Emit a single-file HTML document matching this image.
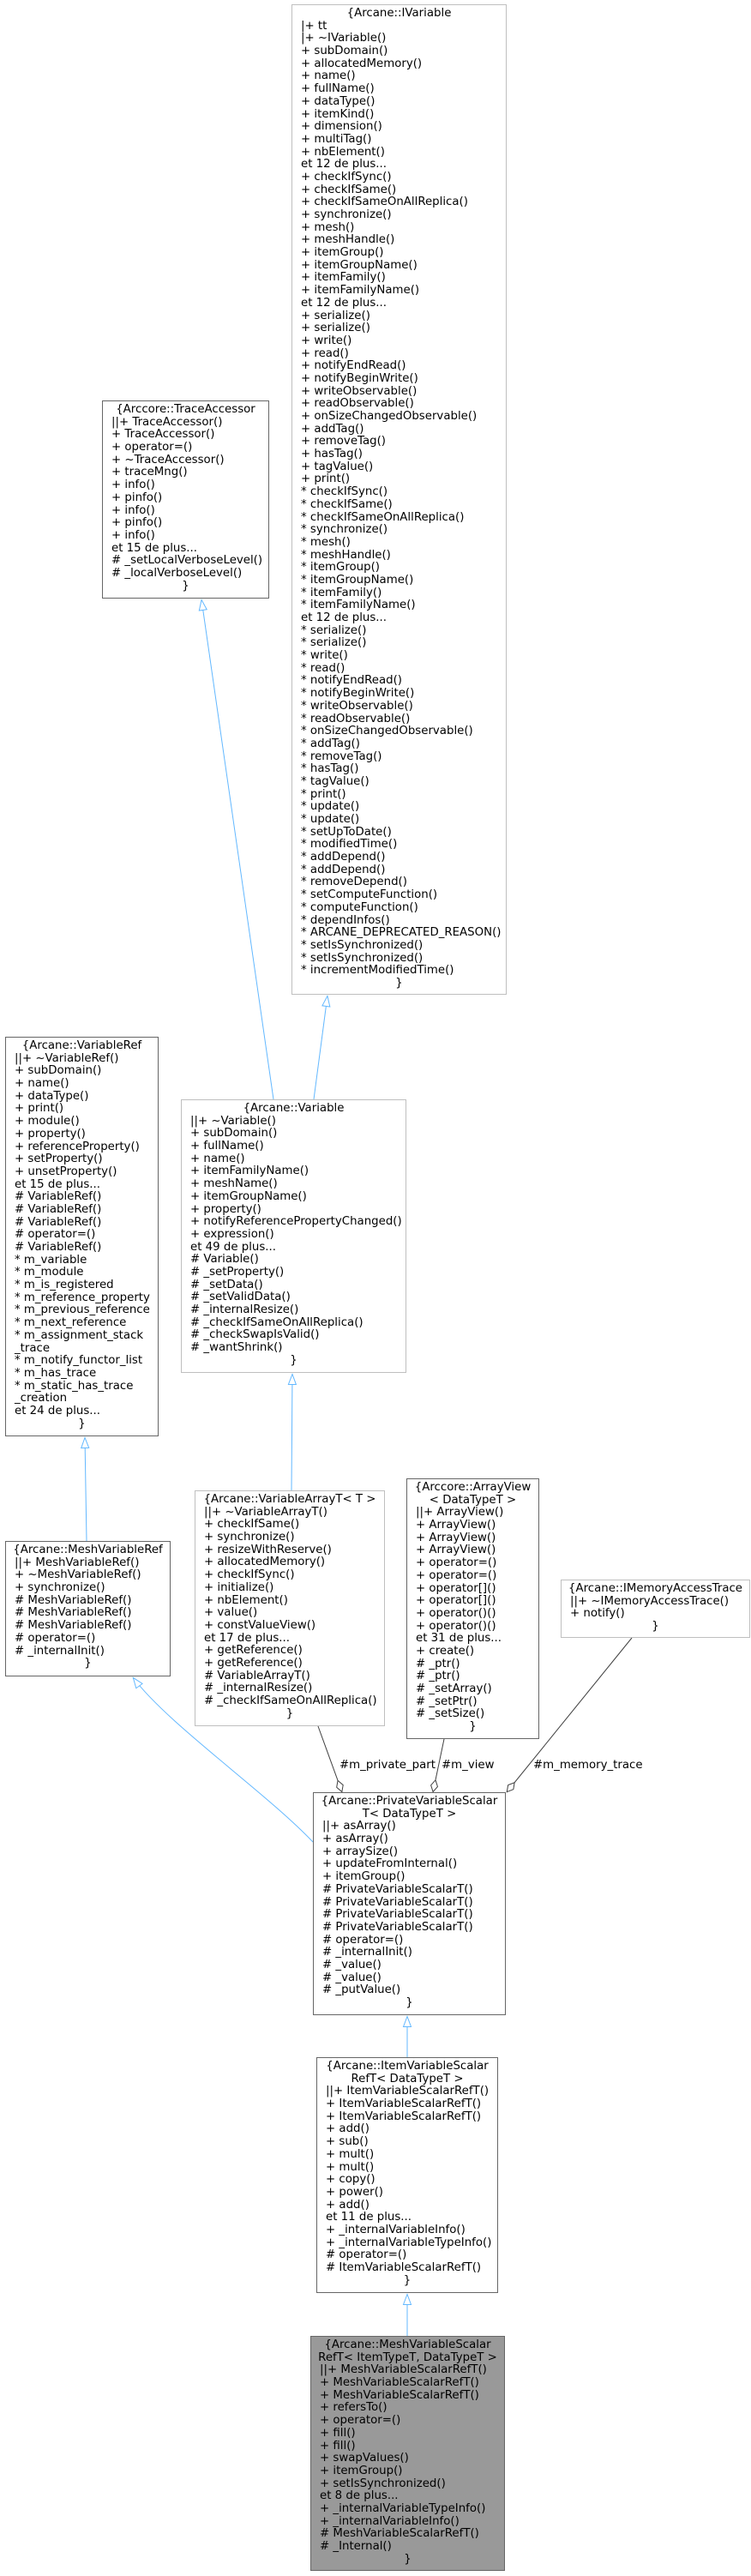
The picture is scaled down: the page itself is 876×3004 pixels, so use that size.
<!DOCTYPE html>
<html><head><meta charset="utf-8">
<style>
html,body{margin:0;padding:0;background:#fff;}
body{width:876px;height:3004px;position:relative;overflow:hidden;}
.b{position:absolute;box-sizing:border-box;border:1px solid #666;background:#fff;
 font-family:"DejaVu Sans","Liberation Sans",sans-serif;font-size:13.33px;line-height:14.7px;
 padding:3px 0 0 10px;color:#000;overflow:visible;}
.l{border-color:#bfbfbf;}
.g{background:#999;}
.b div{height:14.7px;white-space:pre;}
.c{text-align:center;margin-left:-10px;}
svg{position:absolute;left:0;top:0;}
.lab{position:absolute;font-family:"DejaVu Sans","Liberation Sans",sans-serif;font-size:13.33px;line-height:15px;white-space:pre;}
</style></head><body>
<svg width="876" height="3004">
<defs>
<marker id="tri" markerUnits="userSpaceOnUse" markerWidth="14" markerHeight="12" refX="12.5" refY="5" orient="auto" viewBox="-1 -1 14 12">
<path d="M0,0.5 L12,5 L0,9.5 z" fill="#fff" stroke="#63b8ff" stroke-width="1"/></marker>
<marker id="dia" markerUnits="userSpaceOnUse" markerWidth="16" markerHeight="10" refX="14.5" refY="4.5" orient="auto" viewBox="-1 -1 16 10">
<path d="M0,4.5 L7,0.5 L14,4.5 L7,8.5 z" fill="#fff" stroke="#404040" stroke-width="1"/></marker>
</defs>
<g fill="none" stroke="#63b8ff" stroke-width="1">
<path d="M319,1282 L235,699" marker-end="url(#tri)"/>
<path d="M366,1282 L382,1161" marker-end="url(#tri)"/>
<path d="M340,1738 L341,1602" marker-end="url(#tri)"/>
<path d="M101,1797 L99,1676" marker-end="url(#tri)"/>
<path d="M365,2148 C310,2090 195,2010 155,1956" marker-end="url(#tri)"/>
<path d="M475,2399 L475,2351" marker-end="url(#tri)"/>
<path d="M475,2724 L475,2675" marker-end="url(#tri)"/>
</g>
<g fill="none" stroke="#404040" stroke-width="1">
<path d="M371,2013 L399,2090" marker-end="url(#dia)"/>
<path d="M518,2028 L505,2090" marker-end="url(#dia)"/>
<path d="M737,1910 L591,2090" marker-end="url(#dia)"/>
</g>
</svg>

<div class="lab" style="left:396px;top:2051px">#m_private_part</div>
<div class="lab" style="left:515px;top:2051px">#m_view</div>
<div class="lab" style="left:622px;top:2051px">#m_memory_trace</div>

<div class="b l" style="left:340px;top:5px;width:251px;height:1155px"><div class="c">{Arcane::IVariable</div><div>|+ tt</div><div>|+ ~IVariable()</div><div>+ subDomain()</div><div>+ allocatedMemory()</div><div>+ name()</div><div>+ fullName()</div><div>+ dataType()</div><div>+ itemKind()</div><div>+ dimension()</div><div>+ multiTag()</div><div>+ nbElement()</div><div>et 12 de plus...</div><div>+ checkIfSync()</div><div>+ checkIfSame()</div><div>+ checkIfSameOnAllReplica()</div><div>+ synchronize()</div><div>+ mesh()</div><div>+ meshHandle()</div><div>+ itemGroup()</div><div>+ itemGroupName()</div><div>+ itemFamily()</div><div>+ itemFamilyName()</div><div>et 12 de plus...</div><div>+ serialize()</div><div>+ serialize()</div><div>+ write()</div><div>+ read()</div><div>+ notifyEndRead()</div><div>+ notifyBeginWrite()</div><div>+ writeObservable()</div><div>+ readObservable()</div><div>+ onSizeChangedObservable()</div><div>+ addTag()</div><div>+ removeTag()</div><div>+ hasTag()</div><div>+ tagValue()</div><div>+ print()</div><div>* checkIfSync()</div><div>* checkIfSame()</div><div>* checkIfSameOnAllReplica()</div><div>* synchronize()</div><div>* mesh()</div><div>* meshHandle()</div><div>* itemGroup()</div><div>* itemGroupName()</div><div>* itemFamily()</div><div>* itemFamilyName()</div><div>et 12 de plus...</div><div>* serialize()</div><div>* serialize()</div><div>* write()</div><div>* read()</div><div>* notifyEndRead()</div><div>* notifyBeginWrite()</div><div>* writeObservable()</div><div>* readObservable()</div><div>* onSizeChangedObservable()</div><div>* addTag()</div><div>* removeTag()</div><div>* hasTag()</div><div>* tagValue()</div><div>* print()</div><div>* update()</div><div>* update()</div><div>* setUpToDate()</div><div>* modifiedTime()</div><div>* addDepend()</div><div>* addDepend()</div><div>* removeDepend()</div><div>* setComputeFunction()</div><div>* computeFunction()</div><div>* dependInfos()</div><div>* ARCANE_DEPRECATED_REASON()</div><div>* setIsSynchronized()</div><div>* setIsSynchronized()</div><div>* incrementModifiedTime()</div><div class="c">}</div></div>

<div class="b" style="left:119px;top:467px;width:195px;height:231px"><div class="c">{Arccore::TraceAccessor</div><div>||+ TraceAccessor()</div><div>+ TraceAccessor()</div><div>+ operator=()</div><div>+ ~TraceAccessor()</div><div>+ traceMng()</div><div>+ info()</div><div>+ pinfo()</div><div>+ info()</div><div>+ pinfo()</div><div>+ info()</div><div>et 15 de plus...</div><div># _setLocalVerboseLevel()</div><div># _localVerboseLevel()</div><div class="c">}</div></div>

<div class="b" style="left:6px;top:1209px;width:179px;height:466px"><div class="c">{Arcane::VariableRef</div><div>||+ ~VariableRef()</div><div>+ subDomain()</div><div>+ name()</div><div>+ dataType()</div><div>+ print()</div><div>+ module()</div><div>+ property()</div><div>+ referenceProperty()</div><div>+ setProperty()</div><div>+ unsetProperty()</div><div>et 15 de plus...</div><div># VariableRef()</div><div># VariableRef()</div><div># VariableRef()</div><div># operator=()</div><div># VariableRef()</div><div>* m_variable</div><div>* m_module</div><div>* m_is_registered</div><div>* m_reference_property</div><div>* m_previous_reference</div><div>* m_next_reference</div><div>* m_assignment_stack</div><div>_trace</div><div>* m_notify_functor_list</div><div>* m_has_trace</div><div>* m_static_has_trace</div><div>_creation</div><div>et 24 de plus...</div><div class="c">}</div></div>

<div class="b l" style="left:211px;top:1282px;width:263px;height:319px"><div class="c">{Arcane::Variable</div><div>||+ ~Variable()</div><div>+ subDomain()</div><div>+ fullName()</div><div>+ name()</div><div>+ itemFamilyName()</div><div>+ meshName()</div><div>+ itemGroupName()</div><div>+ property()</div><div>+ notifyReferencePropertyChanged()</div><div>+ expression()</div><div>et 49 de plus...</div><div># Variable()</div><div># _setProperty()</div><div># _setData()</div><div># _setValidData()</div><div># _internalResize()</div><div># _checkIfSameOnAllReplica()</div><div># _checkSwapIsValid()</div><div># _wantShrink()</div><div class="c">}</div></div>

<div class="b" style="left:6px;top:1797px;width:193px;height:158px"><div class="c">{Arcane::MeshVariableRef</div><div>||+ MeshVariableRef()</div><div>+ ~MeshVariableRef()</div><div>+ synchronize()</div><div># MeshVariableRef()</div><div># MeshVariableRef()</div><div># MeshVariableRef()</div><div># operator=()</div><div># _internalInit()</div><div class="c">}</div></div>

<div class="b l" style="left:227px;top:1738px;width:222px;height:275px"><div class="c">{Arcane::VariableArrayT&lt; T &gt;</div><div>||+ ~VariableArrayT()</div><div>+ checkIfSame()</div><div>+ synchronize()</div><div>+ resizeWithReserve()</div><div>+ allocatedMemory()</div><div>+ checkIfSync()</div><div>+ initialize()</div><div>+ nbElement()</div><div>+ value()</div><div>+ constValueView()</div><div>et 17 de plus...</div><div>+ getReference()</div><div>+ getReference()</div><div># VariableArrayT()</div><div># _internalResize()</div><div># _checkIfSameOnAllReplica()</div><div class="c">}</div></div>

<div class="b" style="left:474px;top:1724px;width:155px;height:304px"><div class="c">{Arccore::ArrayView</div><div class="c">&lt; DataTypeT &gt;</div><div>||+ ArrayView()</div><div>+ ArrayView()</div><div>+ ArrayView()</div><div>+ ArrayView()</div><div>+ operator=()</div><div>+ operator=()</div><div>+ operator[]()</div><div>+ operator[]()</div><div>+ operator()()</div><div>+ operator()()</div><div>et 31 de plus...</div><div>+ create()</div><div># _ptr()</div><div># _ptr()</div><div># _setArray()</div><div># _setPtr()</div><div># _setSize()</div><div class="c">}</div></div>

<div class="b l" style="left:654px;top:1842px;width:221px;height:68px"><div class="c">{Arcane::IMemoryAccessTrace</div><div>||+ ~IMemoryAccessTrace()</div><div>+ notify()</div><div class="c">}</div></div>

<div class="b" style="left:365px;top:2090px;width:225px;height:260px"><div class="c">{Arcane::PrivateVariableScalar</div><div class="c">T&lt; DataTypeT &gt;</div><div>||+ asArray()</div><div>+ asArray()</div><div>+ arraySize()</div><div>+ updateFromInternal()</div><div>+ itemGroup()</div><div># PrivateVariableScalarT()</div><div># PrivateVariableScalarT()</div><div># PrivateVariableScalarT()</div><div># PrivateVariableScalarT()</div><div># operator=()</div><div># _internalInit()</div><div># _value()</div><div># _value()</div><div># _putValue()</div><div class="c">}</div></div>

<div class="b" style="left:369px;top:2399px;width:212px;height:275px"><div class="c">{Arcane::ItemVariableScalar</div><div class="c">RefT&lt; DataTypeT &gt;</div><div>||+ ItemVariableScalarRefT()</div><div>+ ItemVariableScalarRefT()</div><div>+ ItemVariableScalarRefT()</div><div>+ add()</div><div>+ sub()</div><div>+ mult()</div><div>+ mult()</div><div>+ copy()</div><div>+ power()</div><div>+ add()</div><div>et 11 de plus...</div><div>+ _internalVariableInfo()</div><div>+ _internalVariableTypeInfo()</div><div># operator=()</div><div># ItemVariableScalarRefT()</div><div class="c">}</div></div>

<div class="b g" style="left:362px;top:2724px;width:227px;height:274px"><div class="c">{Arcane::MeshVariableScalar</div><div class="c">RefT&lt; ItemTypeT, DataTypeT &gt;</div><div>||+ MeshVariableScalarRefT()</div><div>+ MeshVariableScalarRefT()</div><div>+ MeshVariableScalarRefT()</div><div>+ refersTo()</div><div>+ operator=()</div><div>+ fill()</div><div>+ fill()</div><div>+ swapValues()</div><div>+ itemGroup()</div><div>+ setIsSynchronized()</div><div>et 8 de plus...</div><div>+ _internalVariableTypeInfo()</div><div>+ _internalVariableInfo()</div><div># MeshVariableScalarRefT()</div><div># _Internal()</div><div class="c">}</div></div>
</body></html>
